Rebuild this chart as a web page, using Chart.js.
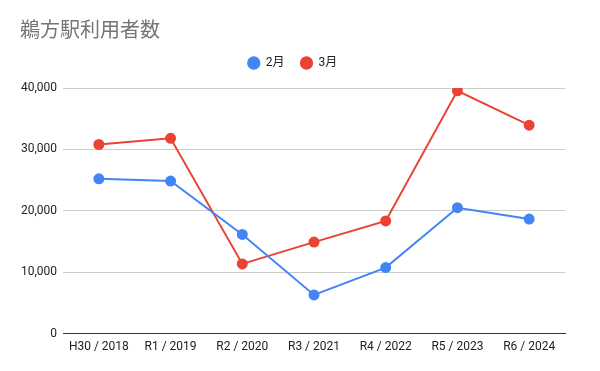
<!DOCTYPE html>
<html>
<head>
<meta charset="utf-8">
<script src="https://cdn.jsdelivr.net/npm/chart.js@4"></script>
<style>
  html, body { margin: 0; padding: 0; background: #fff; }
  #wrap { width: 600px; height: 371px; }
</style>
</head>
<body>
<div id="wrap"><canvas id="usersChart" width="600" height="371"></canvas></div>
<script>
// 年度ラベル
const years = ['H30 / 2018', 'R1 / 2019', 'R2 / 2020', 'R3 / 2021', 'R4 / 2022', 'R5 / 2023', 'R6 / 2024'];
// 2月・3月の利用者数
const febUsers = [25200, 24850, 16150, 6300, 10750, 20500, 18650];
const marUsers = [30800, 31800, 11350, 14900, 18350, 39550, 33950];
const yTicks = [0, 10000, 20000, 30000, 40000];

const fontFamily = "Roboto, 'Noto Sans CJK JP', sans-serif";

// 凡例とグラフの間に余白を追加する
const legendGap = {
    id: 'legendGap',
    beforeInit(chart) {
        const fit = chart.legend.fit;
        chart.legend.fit = function() {
            fit.bind(chart.legend)();
            this.height += 9;
        };
    }
};

new Chart(document.getElementById('usersChart').getContext('2d'), {
    type: 'line',
    data: {
        labels: years,
        datasets: [{
            label: '2月',
            data: febUsers,
            borderColor: '#4285f4',
            backgroundColor: '#4285f4',
            borderWidth: 2,
            pointRadius: 4.5,
            pointHoverRadius: 4.5,
            tension: 0
        }, {
            label: '3月',
            data: marUsers,
            borderColor: '#ea4335',
            backgroundColor: '#ea4335',
            borderWidth: 2,
            pointRadius: 4.5,
            pointHoverRadius: 4.5,
            tension: 0
        }]
    },
    options: {
        responsive: false,
        animation: false,
        layout: { padding: { left: 20, right: 35, top: 12, bottom: 11 } },
        plugins: {
            title: {
                display: true,
                text: '鵜方駅利用者数',
                align: 'start',
                color: '#757575',
                font: { family: "'Noto Sans CJK JP', sans-serif", size: 20, weight: 'normal' },
                padding: { top: 5, bottom: 0 }
            },
            legend: {
                position: 'top',
                labels: {
                    usePointStyle: true,
                    pointStyle: 'circle',
                    boxWidth: 12,
                    boxHeight: 8,
                    padding: 16,
                    color: '#222',
                    font: { family: fontFamily, size: 12 }
                }
            },
            tooltip: { enabled: false }
        },
        scales: {
            x: {
                offset: true,
                grid: { display: false, drawTicks: false },
                border: { color: '#333', width: 1 },
                ticks: { color: '#222', font: { family: fontFamily, size: 12 }, maxRotation: 0, padding: 6 }
            },
            y: {
                min: 0,
                max: 40000,
                afterBuildTicks: axis => { axis.ticks = yTicks.map(v => ({ value: v })); },
                afterFit: axis => { axis.width = 43; },
                grid: { color: '#cccccc', drawTicks: false },
                border: { display: false },
                ticks: {
                    color: '#222',
                    padding: 6,
                    font: { family: fontFamily, size: 12 },
                    callback: v => v.toLocaleString('en-US')
                }
            }
        }
    },
    plugins: [legendGap]
});
</script>
</body>
</html>
